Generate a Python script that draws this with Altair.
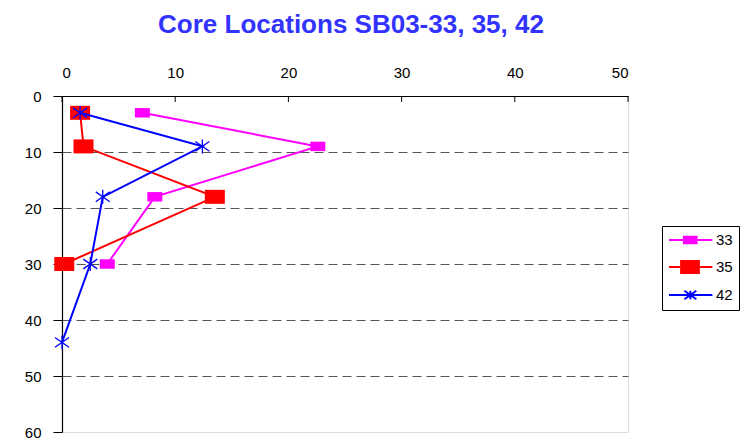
import altair as alt
import pandas as pd

# ---- data ----
series_names = ["33", "35", "42"]
series_colors = ["#FF00FF", "#FF0000", "#0000FF"]

depth_33 = [3, 9, 18, 30]
value_33 = [7.1, 22.6, 8.2, 4.0]

depth_35 = [3, 9, 18, 30]
value_35 = [1.6, 1.9, 13.5, 0.2]

depth_42 = [3, 9, 18, 30, 44]
value_42 = [1.6, 12.4, 3.6, 2.5, 0.0]

x_ticks = [0, 10, 20, 30, 40, 50]
y_ticks = [0, 10, 20, 30, 40, 50, 60]

FONT = "Liberation Sans"

# marker shapes (chart) and legend symbols (line + marker)
marker_paths = [
    "M-1,-0.63H1V0.63H-1Z",
    "M-1,-0.7H1V0.7H-1Z",
    "M0,-1V1M-1,-0.7L1,0.7M-1,0.7L1,-0.7",
]
marker_sizes = [225, 400, 196]
legend_paths = [
    "M-1,0H5.2M1.13,-0.45H2.93V0.45H1.13Z",
    "M-1,0H5.2M0.73,-0.85H3.27V0.85H0.73Z",
    "M-1,0H5.2M2.05,-0.6V0.6M1.2,-0.6L2.9,0.6M1.2,0.6L2.9,-0.6",
]

frames = []
for name, d, v in [("33", depth_33, value_33), ("35", depth_35, value_35), ("42", depth_42, value_42)]:
    frames.append(pd.DataFrame({"series": name, "depth": d, "val": v, "idx": range(len(d))}))
df_all = pd.concat(frames, ignore_index=True)

x_scale = alt.Scale(domain=[0, 50], nice=False, zero=False)
x_axis = alt.Axis(
    orient="top", values=x_ticks, title=None, ticks=False, tickSize=0,
    grid=False, domainColor="#000000", domainWidth=1.2,
    labelFont=FONT, labelFontSize=15, labelColor="#000000", labelPadding=16,
)
x_enc = alt.X("val:Q", scale=x_scale, axis=x_axis)
y_enc = alt.Y(
    "depth:Q",
    scale=alt.Scale(domain=[0, 60], reverse=True, nice=False),
    axis=alt.Axis(
        values=y_ticks, title=None, tickSize=9, tickColor="#000000",
        domainColor="#000000", domainWidth=1.2,
        grid=True, gridColor="#555555", gridDash=[9, 5], gridWidth=1,
        gridOpacity={"condition": {"test": "datum.value == 0 || datum.value == 60", "value": 0}, "value": 1},
        labelFont=FONT, labelFontSize=15, labelColor="#000000", labelPadding=12,
    ),
)

layers = []
for i, name in enumerate(series_names):
    sub = df_all[df_all["series"] == name]
    base = alt.Chart(sub)
    layers.append(
        base.mark_line(color=series_colors[i], strokeWidth=2).encode(
            x=x_enc, y=y_enc, order=alt.Order("idx:Q")
        )
    )
    if name == "42":
        pts = base.mark_point(shape=marker_paths[i], size=marker_sizes[i], filled=False,
                              color=series_colors[i], strokeWidth=1.3, opacity=1)
    else:
        pts = base.mark_point(shape=marker_paths[i], size=marker_sizes[i], filled=True,
                              color=series_colors[i], opacity=1)
    layers.append(pts.encode(x=x_enc, y=y_enc))

# inward ticks on the top axis
tick_df = pd.DataFrame({"t": x_ticks})
top_ticks = alt.Chart(tick_df).mark_rule(color="#000000", strokeWidth=1).encode(
    x=alt.X("t:Q", scale=x_scale, axis=x_axis),
    y=alt.value(0), y2=alt.value(6),
)

legend_def = alt.Legend(
    title=None, orient="none", legendX=600, legendY=130,
    strokeColor="#000000", fillColor="#FFFFFF", padding=6,
    symbolSize=196, symbolStrokeWidth=2, symbolOpacity=1, labelOffset=32,
    rowPadding=9, labelFont=FONT, labelFontSize=15, labelColor="#000000",
)
legend_layer = alt.Chart(df_all).mark_point(filled=True, opacity=0).encode(
    x=x_enc, y=y_enc,
    fill=alt.Fill("series:N", scale=alt.Scale(domain=series_names, range=series_colors), legend=legend_def),
    stroke=alt.Stroke("series:N", scale=alt.Scale(domain=series_names, range=series_colors), legend=legend_def),
    shape=alt.Shape("series:N", scale=alt.Scale(domain=series_names, range=legend_paths), legend=legend_def),
)

chart = alt.layer(*layers, top_ticks, legend_layer).properties(
    width=566, height=336,
    title=alt.TitleParams(
        "Core Locations SB03-33, 35, 42", font=FONT, fontSize=26, fontWeight="bold",
        color="#3333FF", frame="group", anchor="middle", offset=27, dx=6,
    ),
    autosize=alt.AutoSizeParams(type="none"),
    padding={"left": 54, "top": 88, "right": 115, "bottom": 10},
).configure_view(stroke="#888888", strokeWidth=1.5).configure(background="#FFFFFF")

chart.save("out.html", embed_options={"renderer": "svg", "actions": False})
